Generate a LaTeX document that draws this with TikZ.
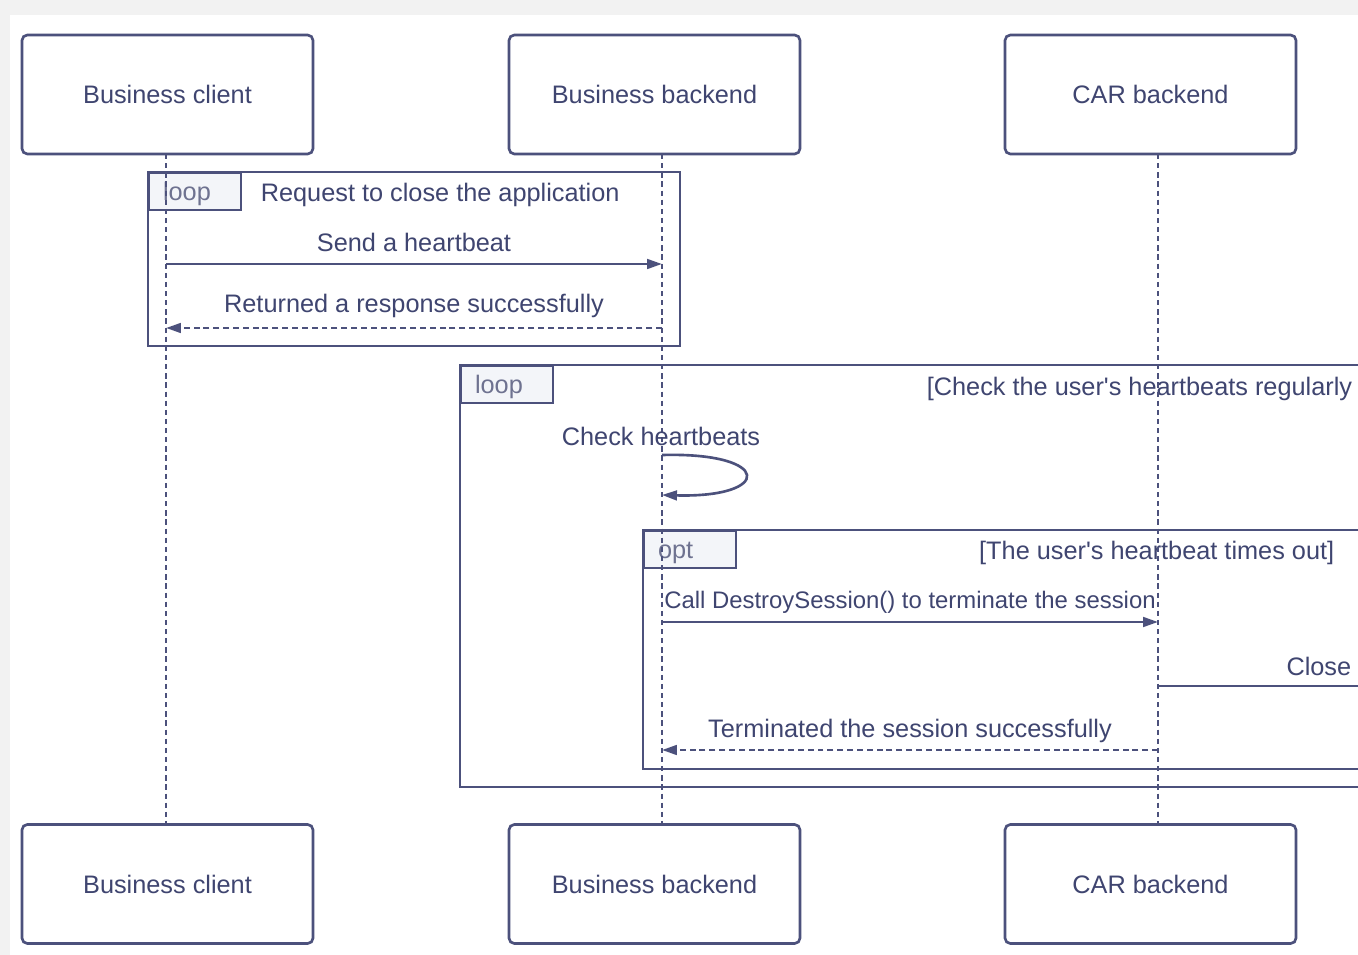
\documentclass[tikz,border=0pt]{standalone}
\usepackage{fontspec}
\setmainfont{Liberation Sans}
\usetikzlibrary{arrows.meta}
\definecolor{ink}{HTML}{3F4570}
\definecolor{edge}{HTML}{4C517C}
\definecolor{tabink}{HTML}{6E7290}
\definecolor{tabfill}{HTML}{F3F5F9}
\definecolor{paper}{HTML}{F2F2F2}
\begin{document}
\begin{tikzpicture}[x=0.02cm, y=-0.02cm, line width=1.2pt, text=ink,
  font=\fontsize{14.4}{17}\selectfont,
  actor/.style={draw=edge, line width=1.5pt, rounded corners=3pt, fill=white,
    minimum width=5.82cm, minimum height=2.38cm, inner sep=0pt},
  lifeline/.style={draw=edge, line width=1.2pt, dash pattern=on 3pt off 2.2pt},
  frame/.style={draw=edge, line width=1.2pt},
  tab/.style={draw=edge, line width=1.2pt, fill=tabfill, anchor=north west,
    minimum width=1.84cm, minimum height=0.74cm, inner sep=0pt},
  tabtxt/.style={text=tabink, anchor=west, inner sep=0pt},
  msg/.style={draw=edge, line width=1.5pt, -{Triangle[length=8.5pt,width=5.5pt]}},
  reply/.style={msg, dash pattern=on 3.4pt off 2.2pt},
  lbl/.style={inner sep=1pt}]
  % page with its faint shadow
  \clip (0,0) rectangle (1358,955);
  \fill[paper] (0,0) rectangle (1358,955);
  \fill[white] (10,15) rectangle (1358,955);
  % participants, top and bottom
  \node[actor] (bcTop) at (167.5,94.5) {Business client};
  \node[actor] (bbTop) at (654.5,94.5) {Business backend};
  \node[actor] (cbTop) at (1150.5,94.5) {CAR backend};
  \node[actor] (bcBot) at (167.5,884) {Business client};
  \node[actor] (bbBot) at (654.5,884) {Business backend};
  \node[actor] (cbBot) at (1150.5,884) {CAR backend};
  % first loop
  \draw[frame] (148,172) rectangle (680,346);
  \node[tab] (tab1) at (148,172) {};
  \node[tabtxt] at (162,194) {loop};
  \node[lbl, anchor=west] (t1) at (258,195) {Request to close the application};
  % second loop, runs past the right edge
  \draw[frame] (1400,365) -- (460,365) -- (460,787) -- (1400,787);
  \node[tab] (tab2) at (460,365) {};
  \node[tabtxt] at (474,387) {loop};
  \node[lbl, anchor=west] (t2) at (924,389)
    {[Check the user\textquotesingle s heartbeats regularly};
  % opt inside it
  \draw[frame] (1400,530) -- (643,530) -- (643,769) -- (1400,769);
  \node[tab] (tab3) at (643,530) {};
  \node[tabtxt] at (657,553) {opt};
  \node[lbl, anchor=east] (t3) at (1337,553)
    {[The user\textquotesingle s heartbeat times out]};
  % lifelines
  \coordinate (lcT) at (166,154);  \coordinate (lcB) at (166,825);
  \coordinate (lbT) at (662,154);  \coordinate (lbB) at (662,825);
  \coordinate (lrT) at (1158,154); \coordinate (lrB) at (1158,825);
  \draw[lifeline] (lcT) -- (lcB);
  \draw[lifeline] (lbT) -- (lbB);
  \draw[lifeline] (lrT) -- (lrB);
  % messages
  \coordinate (hbS) at (166,264);  \coordinate (hbE) at (662,264);
  \coordinate (rsS) at (662,328);  \coordinate (rsE) at (166,328);
  \draw[msg] (hbS) -- node[lbl, above=5pt] {Send a heartbeat} (hbE);
  \draw[reply] (rsS) -- node[lbl, above=4pt] {Returned a response successfully} (rsE);
  \coordinate (ckS) at (662,455);  \coordinate (ckE) at (662,495);
  \node[lbl] (ck) at (661,436) {Check heartbeats};
  \draw[msg] (ckS) .. controls (773,452) and (773,498) .. (ckE);
  \coordinate (dsS) at (662,622);  \coordinate (dsE) at (1158,622);
  \coordinate (clS) at (1158,686); \coordinate (clE) at (1400,686);
  \coordinate (tsS) at (1158,750); \coordinate (tsE) at (662,750);
  \draw[msg] (dsS) -- node[lbl, above=3pt, font=\fontsize{13.6}{16}\selectfont]
    {Call DestroySession() to terminate the session} (dsE);
  \draw[draw=edge, line width=1.5pt] (clS) -- (clE);
  \node[lbl, anchor=east] (cl) at (1354,666) {Close};
  \draw[reply] (tsS) -- node[lbl, above=2.5pt] {Terminated the session successfully} (tsE);
\end{tikzpicture}
\end{document}
